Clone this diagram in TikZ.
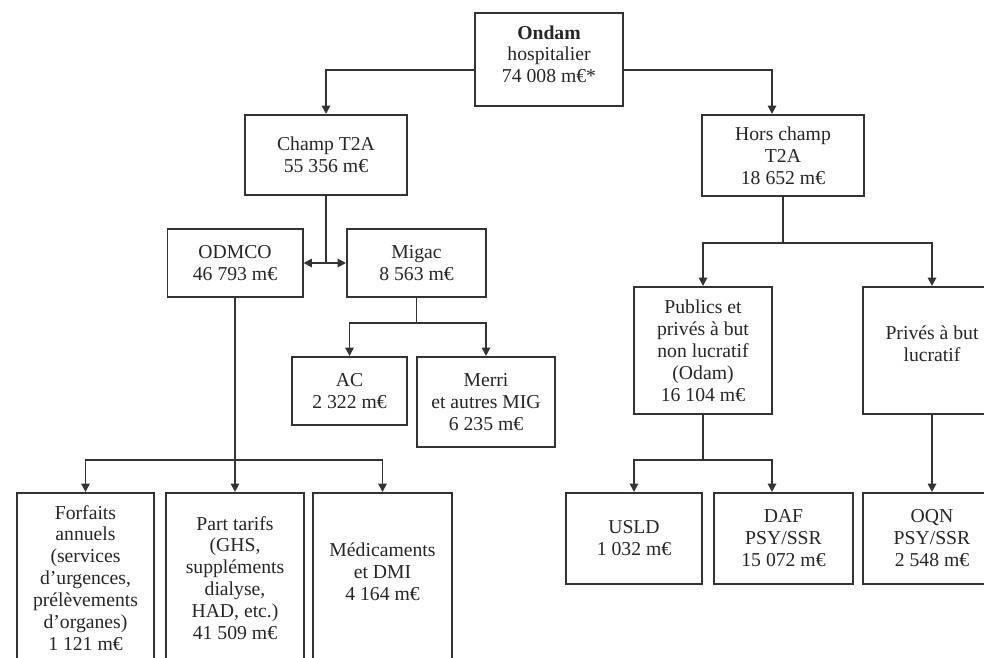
\documentclass[tikz,border=0pt]{standalone}
\usepackage{fontspec}
\setmainfont{Liberation Serif}
\usetikzlibrary{arrows.meta, positioning}

\tikzset{
  box/.style={draw=black!80, line width=1.4pt, fill=white, align=center, inner sep=2pt,
    text=black!85, font=\fontsize{14}{15.6}\selectfont},
  link/.style={draw=black!80, line width=1.3pt},
  arr/.style={link, -{Triangle[length=6pt,width=6pt]}},
}

\begin{document}
\begin{tikzpicture}[x=0.025cm, y=-0.025cm]
\useasboundingbox (0,0) rectangle (984,657);
\clip (0,0) rectangle (984,657);

% top levels
\node[box, minimum width=3.7cm, minimum height=2.325cm] (ondam) at (549,59.5) {\textbf{Ondam}\\hospitalier\\74~008 m€*\\[-0.28cm]};
\node[box, minimum width=4.05cm, minimum height=2cm] (champ) at (326,155) {Champ T2A\\55~356 m€};
\node[box, minimum width=4.05cm, minimum height=2.025cm] (hors) at (783,155.5) {Hors champ\\T2A\\18~652 m€};

\node[box, minimum width=3.375cm, minimum height=1.7cm] (odmco) at (235,263) {ODMCO\\46~793 m€};
\node[box, minimum width=3.475cm, minimum height=1.7cm] (migac) at (416.5,263) {Migac\\8~563 m€};
\node[box, minimum width=2.875cm, minimum height=1.7cm] (ac) at (349.5,391) {AC\\2~322 m€};
\node[box, minimum width=3.45cm, minimum height=2.25cm] (merri) at (486,402) {Merri\\et autres MIG\\6~235 m€};

\node[box, minimum width=3.45cm, minimum height=3.175cm] (publics) at (703,350.5) {Publics et\\privés à but\\non lucratif\\(Odam)\\16~104 m€};
\node[box, minimum width=3.45cm, minimum height=3.175cm] (prives) at (932,350.5) {Privés à but\\lucratif\\[-0.22cm]};

% bottom row
\node[box, minimum width=3.425cm, minimum height=4.25cm] (forf) at (85.5,578) {Forfaits\\annuels\\(services\\d’urgences,\\prélèvements\\d’organes)\\1~121 m€};
\node[box, minimum width=3.45cm, minimum height=4.25cm] (part) at (235,578) {Part tarifs\\(GHS,\\suppléments\\dialyse,\\HAD, etc.)\\41~509 m€};
\node[box, minimum width=3.475cm, minimum height=4.25cm] (medic) at (382.5,578) {Médicaments\\et DMI\\4~164 m€\\[-0.25cm]};

\node[box, minimum width=3.4cm, minimum height=2.275cm] (usld) at (634,538.5) {USLD\\1~032 m€};
\node[box, minimum width=3.475cm, minimum height=2.275cm] (daf) at (783.5,538.5) {DAF\\PSY/SSR\\15~072 m€};
\node[box, minimum width=3.45cm, minimum height=2.275cm] (oqn) at (932,538.5) {OQN\\PSY/SSR\\2~548 m€};

% connectors
\draw[arr] ([yshift=-0.26cm]ondam.west) -| (champ.north);
\draw[arr] ([yshift=-0.26cm]ondam.east) -| ([xshift=-0.275cm]hors.north);

\draw[link] (champ.south) -- (champ.south |- odmco.east) coordinate (c1);
\draw[arr] (c1) -- (odmco.east);
\draw[arr] (c1) -- (migac.west);

\draw[link] (migac.south) -- ++(0,25) coordinate (m1);
\draw[arr] (m1) -| (ac.north);
\draw[arr] (m1) -| (merri.north);

\draw[link] (odmco.south) -- ++(0,162) coordinate (o1);
\draw[arr] (o1) -| (forf.north);
\draw[arr] (o1) -- (part.north);
\draw[arr] (o1) -| (medic.north);

\draw[link] (hors.south) -- ++(0,46) coordinate (h1);
\draw[arr] (h1) -| (publics.north);
\draw[arr] (h1) -| (prives.north);

\draw[link] (publics.south) -- ++(0,45) coordinate (p1);
\draw[arr] (p1) -| (usld.north);
\draw[arr] (p1) -| ([xshift=-0.2875cm]daf.north);

\draw[arr] (prives.south) -- (oqn.north);
\end{tikzpicture}
\end{document}
